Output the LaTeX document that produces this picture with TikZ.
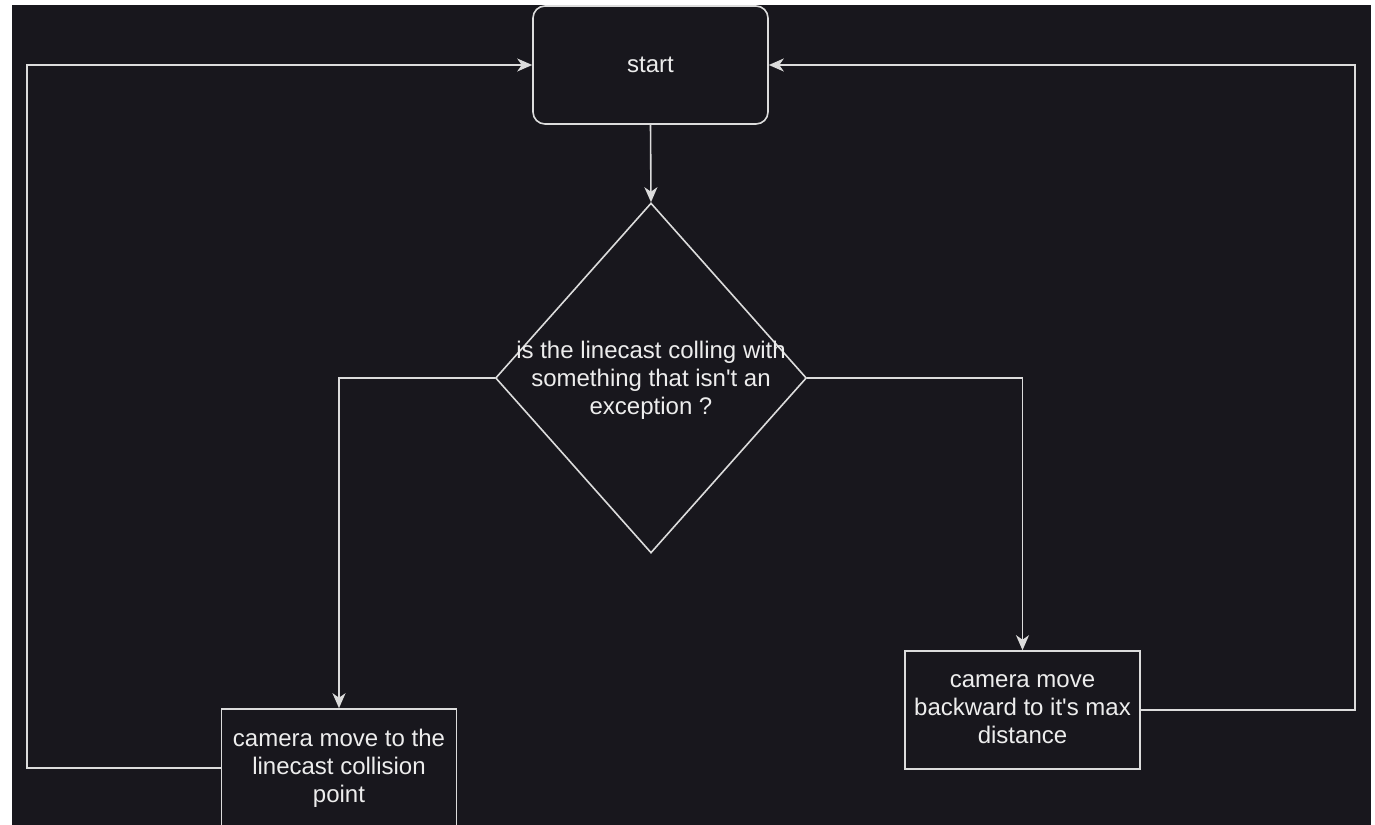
\documentclass[tikz,border=0pt]{standalone}
\usepackage{fontspec}
\setmainfont{Liberation Sans}
\usetikzlibrary{shapes.geometric,arrows.meta}
\definecolor{canvas}{HTML}{18171D}
\definecolor{ink}{HTML}{DCDCDC}
\definecolor{label}{HTML}{EDEDED}
\begin{document}
\begin{tikzpicture}[x=1pt,y=-1pt,
  every node/.style={font=\fontsize{24}{28}\selectfont, text=label},
  shapebox/.style={draw=ink, line width=1.6pt, fill=canvas, inner sep=0pt, align=center},
  flow/.style={draw=ink, line width=1.6pt, -{Stealth[length=15pt,width=13pt,inset=4.5pt]}}]
  % page and dark canvas
  \fill[white] (0,0) rectangle (1375,824);
  \useasboundingbox (0,0) rectangle (1375,824);
  \fill[canvas] (12,5) rectangle (1371,830);

  % nodes
  \node[shapebox, rounded corners=12pt, minimum width=235pt, minimum height=118pt] (start) at (650.5,65) {\raisebox{-2pt}{start}};
  \node[shapebox, diamond, minimum width=311pt, minimum height=350pt] (dia) at (651,378) {};
  \node[align=center, inner sep=0pt] (q) at (651,380) {is the linecast colling with\\something that isn\textquotesingle t an\\exception ?};
  \node[shapebox, minimum width=235pt, minimum height=118pt] (rbox) at (1022.5,710) {\raisebox{-2pt}{\begin{tabular}{@{}c@{}}camera move\\backward to it\textquotesingle s max\\distance\end{tabular}}};
  \node[shapebox, minimum width=235pt, minimum height=118pt] (lbox) at (339,768) {camera move to the\\linecast collision\\point};

  % loop corners
  \coordinate (lc) at (27,768);
  \coordinate (rc) at (1355,710);

  % connectors
  \draw[flow] (start.south) -- (dia.north);
  \draw[flow] (dia.west) -| (lbox.north);
  \draw[flow] (dia.east) -| (rbox.north);
  \draw[flow] (lbox.west) -- (lc) |- (start.west);
  \draw[flow] (rbox.east) -- (rc) |- (start.east);
\end{tikzpicture}
\end{document}
